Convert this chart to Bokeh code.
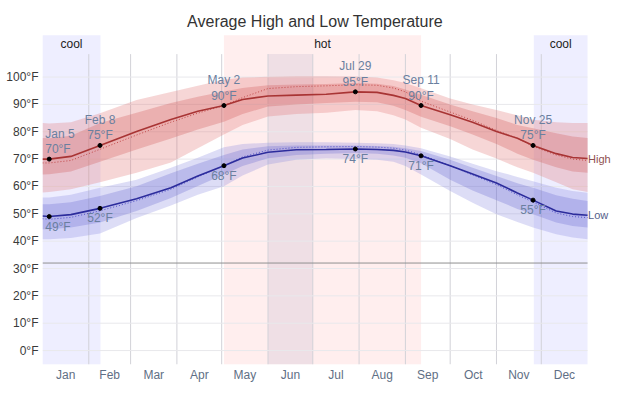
from bokeh.plotting import figure
from bokeh.models import ColumnDataSource, FixedTicker, PrintfTickFormatter
from bokeh.core.properties import value
from bokeh.embed import file_html
from bokeh.resources import INLINE

FONT = "Liberation Sans"

# ---- data (day of year, 0 = start of Jan 1) ----
days = [0, 4.5, 19, 38.5, 63, 86, 104, 121.5, 134, 151, 170, 190, 209.5, 224, 235, 243,
        253.5, 273, 288, 304, 318, 328.5, 344, 355, 365]
high = [70.0, 70.0, 71.0, 75.0, 80.1, 84.5, 87.5, 89.6, 91.8, 93.1, 93.4, 93.7, 94.6, 94.4,
        93.3, 92.2, 89.6, 86.2, 83.5, 80.1, 77.6, 75.0, 72.0, 70.6, 70.2]
high_p90 = [83.2, 83.0, 83.5, 86.8, 91.6, 94.5, 96.8, 99.0, 99.8, 100.1, 100.3, 100.3, 100.2,
            99.8, 98.8, 97.8, 95.9, 92.2, 90.0, 88.0, 86.0, 84.4, 83.5, 83.2, 83.2]
high_p75 = [77.7, 77.6, 78.5, 83.2, 87.0, 90.5, 92.8, 94.7, 96.0, 97.0, 97.3, 97.5, 97.8, 97.6,
            96.7, 95.5, 93.5, 90.0, 87.5, 85.0, 82.5, 81.3, 79.5, 78.3, 77.7]
high_p25 = [64.4, 64.5, 65.5, 69.0, 73.5, 77.5, 80.8, 83.7, 86.5, 89.2, 90.0, 90.5, 91.0, 90.8,
            89.5, 88.0, 85.5, 82.0, 79.0, 75.5, 72.0, 69.8, 67.0, 65.5, 65.0]
high_p10 = [57.8, 58.0, 59.0, 61.5, 65.0, 68.8, 74.0, 79.0, 82.5, 85.6, 86.5, 87.0, 88.0, 87.5,
            86.0, 84.5, 81.5, 77.4, 73.5, 70.2, 67.0, 65.0, 61.5, 59.0, 58.0]
high_feel = [68.6, 68.6, 69.5, 73.6, 78.8, 83.5, 86.8, 89.6, 92.5, 95.8, 96.5, 96.8, 97.2, 97.0,
             96.0, 94.6, 91.2, 87.2, 84.2, 80.5, 77.6, 74.7, 71.5, 70.0, 69.5]

low = [49.2, 49.0, 49.7, 52.0, 55.5, 59.5, 63.8, 67.6, 70.4, 72.5, 73.4, 73.5, 73.7, 73.5,
       73.2, 72.6, 71.2, 67.6, 64.6, 61.3, 57.6, 55.0, 51.0, 49.9, 49.5]
low_p90 = [56.0, 56.0, 57.0, 59.5, 62.5, 66.8, 70.5, 74.3, 75.5, 76.0, 76.2, 76.2, 76.0, 75.8,
           75.5, 75.0, 74.0, 71.0, 68.3, 65.6, 63.5, 61.9, 59.5, 58.3, 57.7]
low_p75 = [53.5, 53.5, 54.2, 56.5, 60.1, 64.8, 68.3, 71.5, 73.5, 74.7, 75.0, 75.0, 75.0, 74.8,
           74.5, 74.0, 73.0, 69.8, 66.8, 63.8, 61.2, 59.5, 56.8, 55.5, 54.7]
low_p25 = [44.4, 44.4, 45.0, 46.8, 51.0, 55.8, 60.2, 64.4, 67.5, 70.3, 71.5, 72.0, 72.2, 72.0,
           71.3, 70.5, 68.5, 62.5, 58.5, 55.0, 51.8, 49.8, 46.8, 45.5, 45.0]
low_p10 = [40.7, 40.7, 41.2, 42.8, 48.5, 53.0, 57.0, 60.1, 64.0, 68.0, 69.8, 70.3, 70.0, 69.8,
           69.0, 67.5, 64.4, 58.3, 54.0, 49.8, 47.0, 45.0, 42.5, 41.3, 40.7]
low_feel = [48.2, 48.0, 48.7, 51.1, 54.8, 59.0, 63.5, 67.6, 70.8, 73.3, 74.3, 74.5, 74.6, 74.4,
            74.0, 73.3, 71.6, 67.6, 64.2, 60.7, 56.9, 54.3, 50.3, 49.0, 48.6]

mark_idx = [1, 3, 7, 12, 16, 21]
mark_dates = ["Jan 5", "Feb 8", "May 2", "Jul 29", "Sep 11", "Nov 25"]

season_names = ["cool", "hot", "cool"]
season_starts = [0, 121.5, 329.0]
season_ends = [38.8, 253.5, 365]

month_names = ["Jan", "Feb", "Mar", "Apr", "May", "Jun", "Jul", "Aug", "Sep", "Oct", "Nov", "Dec"]
month_starts = [0, 31, 59, 90, 120, 151, 181, 212, 243, 273, 304, 334, 365]
current_month = 5  # Jun

title = "Average High and Low Temperature"
y_ticks = [0, 10, 20, 30, 40, 50, 60, 70, 80, 90, 100]
freezing = 32

# ---- layout constants (plot geometry, not data) ----
Y_MIN, BAND_TOP, GRID_TOP, Y_TOP = -5.1, 115.3, 108.4, 128.0
SEASON_LABEL_Y, TITLE_Y = 112.0, 120.4
X_MAX = 381.7

p = figure(width=612, height=384, x_range=(0, X_MAX), y_range=(Y_MIN, Y_TOP),
           output_backend="svg", toolbar_location=None,
           min_border_left=42, min_border_right=0, min_border_top=0, min_border_bottom=18)
p.outline_line_color = None
p.background_fill_color = "white"
p.border_fill_color = "white"
p.xgrid.visible = False
p.ygrid.visible = False

# season bands
sea = ColumnDataSource(dict(left=season_starts, right=season_ends, name=season_names,
                            color=["#6464ff" if n == "cool" else "#ff6464" for n in season_names],
                            alpha=[0.11 if n == "cool" else 0.11 for n in season_names],
                            mid=[(a + b) / 2 for a, b in zip(season_starts, season_ends)],
                            ytxt=[SEASON_LABEL_Y] * len(season_names)))
p.quad(left="left", right="right", bottom=Y_MIN, top=BAND_TOP, fill_color="color",
       fill_alpha="alpha", line_color=None, source=sea)

# current month highlight
p.quad(left=[month_starts[current_month]], right=[month_starts[current_month + 1]],
       bottom=Y_MIN, top=GRID_TOP, fill_color="#7070a0", fill_alpha=0.11, line_color=None)

# grid lines
vb = month_starts[1:-1]
p.segment(x0=vb, x1=vb, y0=[Y_MIN] * len(vb), y1=[GRID_TOP] * len(vb),
          line_color="#d2d2d8", line_width=1)
p.segment(x0=[month_starts[0]] * len(y_ticks), x1=[month_starts[-1]] * len(y_ticks),
          y0=y_ticks, y1=y_ticks, line_color="#e8e8ec", line_width=1)

# temperature bands
src = ColumnDataSource(dict(d=days, h=high, h90=high_p90, h75=high_p75, h25=high_p25, h10=high_p10,
                            hf=high_feel, l=low, l90=low_p90, l75=low_p75, l25=low_p25,
                            l10=low_p10, lf=low_feel))
p.varea(x="d", y1="h10", y2="h90", fill_color="#e07878", fill_alpha=0.3, source=src)
p.varea(x="d", y1="h25", y2="h75", fill_color="#d05a5a", fill_alpha=0.3, source=src)
p.varea(x="d", y1="l10", y2="l90", fill_color="#8484e0", fill_alpha=0.28, source=src)
p.varea(x="d", y1="l25", y2="l75", fill_color="#6464d0", fill_alpha=0.28, source=src)

p.line(x="d", y="hf", line_color="#c04848", line_width=1, line_dash="1 2", source=src)
p.line(x="d", y="lf", line_color="#5050c8", line_width=1, line_dash="1 2", source=src)
p.line(x="d", y="h", line_color="#a83434", line_width=1.6, source=src)
p.line(x="d", y="l", line_color="#2c2c9c", line_width=1.6, source=src)

# freezing line
p.segment(x0=[month_starts[0]], x1=[month_starts[-1]], y0=[freezing], y1=[freezing],
          line_color="#8f8f8f", line_width=1)

# markers and annotations
mx = [days[i] for i in mark_idx]
mh = [high[i] for i in mark_idx]
ml = [low[i] for i in mark_idx]
align = ["left" if x < 10 else "center" for x in mx]
xoff = [-4 if a == "left" else 0 for a in align]
msrc = ColumnDataSource(dict(
    x=mx, h=mh, l=ml,
    htxt=[f"{d}\n{round(v)}°F" for d, v in zip(mark_dates, mh)],
    ltxt=[f"{round(v)}°F" for v in ml],
    align=align, xoff=xoff))
p.scatter(x="x", y="h", size=4, color="black", source=msrc)
p.scatter(x="x", y="l", size=4, color="black", source=msrc)
p.text(x="x", y="h", text="htxt", text_align="align", x_offset="xoff", y_offset=-3,
       text_baseline="bottom", text_font=value(FONT), text_font_size="12px",
       text_color="#6a7f9f", text_line_height=1.1, source=msrc)
p.text(x="x", y="l", text="ltxt", text_align="align", x_offset="xoff", y_offset=3,
       text_baseline="top", text_font=value(FONT), text_font_size="12px",
       text_color="#6a7f9f", source=msrc)

# season labels
p.text(x="mid", y="ytxt", text="name", text_align="center", text_baseline="middle",
       text_font=value(FONT), text_font_size="12px", text_color="#222222", source=sea)

# series labels at right
p.text(x=[days[-1], days[-1]], y=[high[-1], low[-1]], text=["High", "Low"], x_offset=0.5,
       text_baseline="middle", text_font=value(FONT), text_font_size="11px",
       text_color=["#8e5050", "#56608a"])

# title
p.text(x=[(month_starts[0] + month_starts[-1]) / 2], y=[TITLE_Y], text=[title],
       text_align="center", text_baseline="middle", text_font=value(FONT),
       text_font_size="16px", text_color="#333333")

# axes
centers = [(a + b) / 2 for a, b in zip(month_starts[:-1], month_starts[1:])]
p.xaxis.ticker = FixedTicker(ticks=centers)
p.xaxis.major_label_overrides = {c: n for c, n in zip(centers, month_names)}
p.yaxis.ticker = FixedTicker(ticks=y_ticks)
p.yaxis.formatter = PrintfTickFormatter(format="%d°F")
for ax in (p.xaxis, p.yaxis):
    ax.axis_line_color = None
    ax.major_tick_line_color = None
    ax.minor_tick_line_color = None
    ax.major_tick_out = 0
    ax.major_tick_in = 0
    ax.minor_tick_out = 0
    ax.minor_tick_in = 0
    ax.major_label_text_font = FONT
    ax.major_label_text_font_size = "12px"
p.xaxis.major_label_text_color = "#5f6f85"
p.yaxis.major_label_text_color = "#3a3a3a"
p.xaxis.major_label_standoff = 3
p.yaxis.major_label_standoff = 4

open("out.html", "w").write(file_html(p, INLINE))
